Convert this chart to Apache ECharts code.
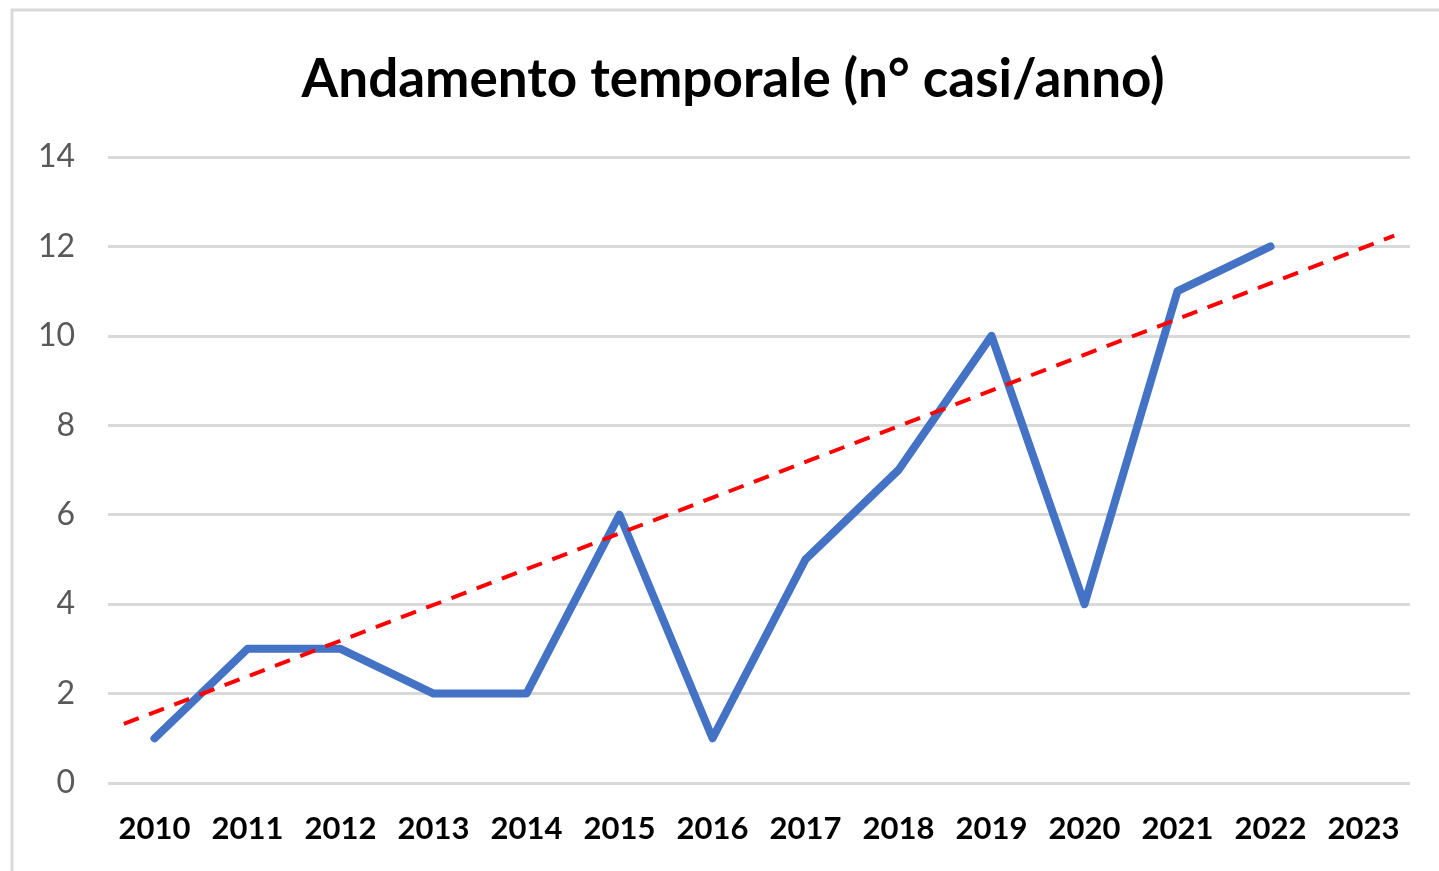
<!DOCTYPE html>
<html>
<head>
<meta charset="utf-8">
<script src="https://cdn.jsdelivr.net/npm/echarts@6/dist/echarts.min.js"></script>
<style>
    html, body { margin: 0; padding: 0; background: #fff; }
    #chart { width: 1439px; height: 871px; }
</style>
</head>
<body>
<div id="chart"></div>
<script>
// anni (asse categorie)
const years = ['2010', '2011', '2012', '2013', '2014', '2015', '2016', '2017', '2018', '2019', '2020', '2021', '2022', '2023'];
// n° casi per anno (2023 senza dato)
const cases = [1, 3, 3, 2, 2, 6, 1, 5, 7, 10, 4, 11, 12, null];
// linea di tendenza: estremi (posizione in indici di categoria)
const trendX = [-0.33, 13.33];
const trendY = [1.32, 12.24];
const yTicks = { min: 0, max: 14, interval: 2 };

const chart = echarts.init(document.getElementById('chart'));

const option = {
    animation: false,
    textStyle: { fontFamily: 'Lato' },
    title: {
        text: 'Andamento temporale (n° casi/anno)',
        left: 728,
        textAlign: 'center',
        top: 48,
        textStyle: { fontFamily: 'Lato', fontWeight: 'bold', fontSize: 53, color: '#000' }
    },
    graphic: [{
        type: 'rect',
        shape: { x: 12, y: 10, width: 1500, height: 900 },
        style: { fill: 'none', stroke: '#d9d9d9', lineWidth: 3 },
        silent: true
    }],
    grid: { left: 108, right: 29, top: 157, bottom: 88 },
    xAxis: [{
        type: 'category',
        data: years,
        boundaryGap: true,
        axisLine: { show: false },
        axisTick: { show: false },
        axisLabel: { interval: 0, fontFamily: 'Lato', fontWeight: 'bold', fontSize: 31, color: '#000', margin: 30 }
    }, {
        type: 'value',
        min: -0.5,
        max: 13.5,
        show: false
    }],
    yAxis: {
        type: 'value',
        min: yTicks.min,
        max: yTicks.max,
        interval: yTicks.interval,
        axisLine: { show: false },
        axisTick: { show: false },
        axisLabel: { fontFamily: 'Lato', fontSize: 32, color: '#595959', margin: 33 },
        splitLine: { lineStyle: { color: '#d9d9d9', width: 3 } }
    },
    series: [{
        type: 'line',
        data: cases,
        showSymbol: false,
        lineStyle: { color: '#4472C4', width: 8, cap: 'round', join: 'round' },
        z: 2
    }, {
        type: 'line',
        xAxisIndex: 1,
        data: trendX.map((x, i) => [x, trendY[i]]),
        showSymbol: false,
        lineStyle: { color: '#ff0000', width: 4, type: [16, 11] },
        z: 3
    }]
};

chart.setOption(option);
</script>
</body>
</html>
